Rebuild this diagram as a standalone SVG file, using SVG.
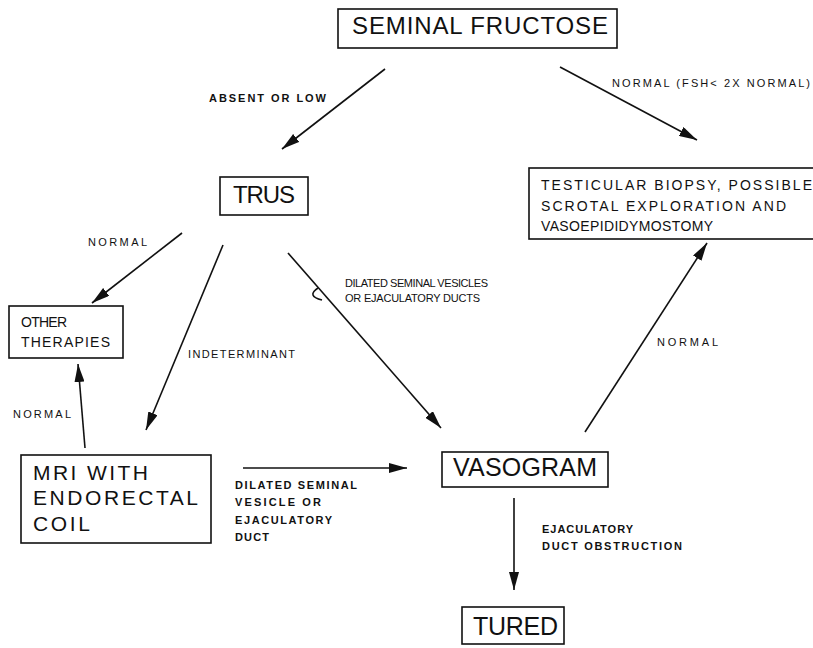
<svg xmlns="http://www.w3.org/2000/svg" width="813" height="648" viewBox="0 0 813 648">
<style>
.box{fill:#fff;stroke:#111;stroke-width:1.6}
.big{font-family:"Liberation Sans",Arial,sans-serif;fill:#111}
.lbl{font-family:"Liberation Sans",Arial,sans-serif;font-size:11px;fill:#111}
.b{font-weight:bold}
.con{stroke:#111;stroke-width:1.6;fill:none}
</style>
<defs>
<marker id="ah" viewBox="0 0 18 10" refX="18" refY="5" markerWidth="18" markerHeight="10" orient="auto" markerUnits="userSpaceOnUse">
<path d="M0,0 L18,5 L0,10 z" fill="#111"/>
</marker>
</defs>
<rect width="813" height="648" fill="#fff"/>
<g id="connectors">
<line class="con" x1="385" y1="69" x2="282" y2="149" marker-end="url(#ah)"/>
<line class="con" x1="560" y1="67" x2="697" y2="140" marker-end="url(#ah)"/>
<line class="con" x1="182" y1="233" x2="92" y2="303" marker-end="url(#ah)"/>
<line class="con" x1="223" y1="245" x2="146" y2="430" marker-end="url(#ah)"/>
<line class="con" x1="288" y1="253" x2="441" y2="428" marker-end="url(#ah)"/>
<path class="con" d="M318 288 Q306 296 322 300"/>
<line class="con" x1="85" y1="448" x2="78" y2="364" marker-end="url(#ah)"/>
<line class="con" x1="243" y1="468" x2="407" y2="468" marker-end="url(#ah)"/>
<line class="con" x1="585" y1="432" x2="707" y2="243" marker-end="url(#ah)"/>
<line class="con" x1="514" y1="498" x2="514" y2="590" marker-end="url(#ah)"/>
<text class="lbl b" x="209" y="102" textLength="117" lengthAdjust="spacing">ABSENT OR LOW</text>
<text class="lbl" x="612" y="87" textLength="198" lengthAdjust="spacing">NORMAL (FSH&lt; 2X NORMAL)</text>
<text class="lbl" x="88" y="246" textLength="59" lengthAdjust="spacing">NORMAL</text>
<text class="lbl" x="188" y="358" textLength="107" lengthAdjust="spacing">INDETERMINANT</text>
<text class="lbl" x="345" y="287" textLength="143" lengthAdjust="spacing">DILATED SEMINAL VESICLES</text>
<text class="lbl" x="345" y="302" textLength="135" lengthAdjust="spacing">OR EJACULATORY DUCTS</text>
<text class="lbl" x="657" y="346" textLength="61" lengthAdjust="spacing">NORMAL</text>
<text class="lbl" x="13" y="418" textLength="58" lengthAdjust="spacing">NORMAL</text>
<text class="lbl b" x="235" y="489" textLength="122" lengthAdjust="spacing">DILATED SEMINAL</text>
<text class="lbl b" x="235" y="506" textLength="86" lengthAdjust="spacing">VESICLE OR</text>
<text class="lbl b" x="235" y="524" textLength="97" lengthAdjust="spacing">EJACULATORY</text>
<text class="lbl b" x="235" y="541" textLength="34" lengthAdjust="spacing">DUCT</text>
<text class="lbl b" x="542" y="533" textLength="91" lengthAdjust="spacing">EJACULATORY</text>
<text class="lbl b" x="542" y="550" textLength="140" lengthAdjust="spacing">DUCT OBSTRUCTION</text>
</g>
<g id="seminal-fructose">
<rect class="box" x="338" y="9" width="279" height="39"/>
<text class="big" x="352" y="34" font-size="24" textLength="256" lengthAdjust="spacing">SEMINAL FRUCTOSE</text>
</g>
<g id="trus">
<rect class="box" x="220" y="177" width="88" height="38"/>
<text class="big" x="233" y="203" font-size="24" textLength="62" lengthAdjust="spacing">TRUS</text>
</g>
<g id="testicular-biopsy">
<rect class="box" x="529" y="168" width="287" height="71"/>
<text class="big" x="541" y="190" font-size="14" textLength="271" lengthAdjust="spacing">TESTICULAR BIOPSY, POSSIBLE</text>
<text class="big" x="541" y="211" font-size="14" textLength="245" lengthAdjust="spacing">SCROTAL EXPLORATION AND</text>
<text class="big" x="541" y="231" font-size="14" textLength="172" lengthAdjust="spacing">VASOEPIDIDYMOSTOMY</text>
</g>
<g id="other-therapies">
<rect class="box" x="9" y="306" width="114" height="52"/>
<text class="big" x="21" y="327" font-size="14" textLength="46" lengthAdjust="spacing">OTHER</text>
<text class="big" x="21" y="347" font-size="14" textLength="89" lengthAdjust="spacing">THERAPIES</text>
</g>
<g id="mri">
<rect class="box" x="21" y="455" width="190" height="88"/>
<text class="big" x="33" y="480" font-size="21" textLength="115" lengthAdjust="spacing">MRI WITH</text>
<text class="big" x="33" y="505" font-size="21" textLength="165" lengthAdjust="spacing">ENDORECTAL</text>
<text class="big" x="33" y="531" font-size="21" textLength="57" lengthAdjust="spacing">COIL</text>
</g>
<g id="vasogram">
<rect class="box" x="442" y="452" width="166" height="35"/>
<text class="big" x="453" y="476" font-size="25" textLength="144" lengthAdjust="spacing">VASOGRAM</text>
</g>
<g id="tured">
<rect class="box" x="462" y="607" width="102" height="37"/>
<text class="big" x="473" y="635" font-size="25" textLength="85" lengthAdjust="spacing">TURED</text>
</g>
</svg>
